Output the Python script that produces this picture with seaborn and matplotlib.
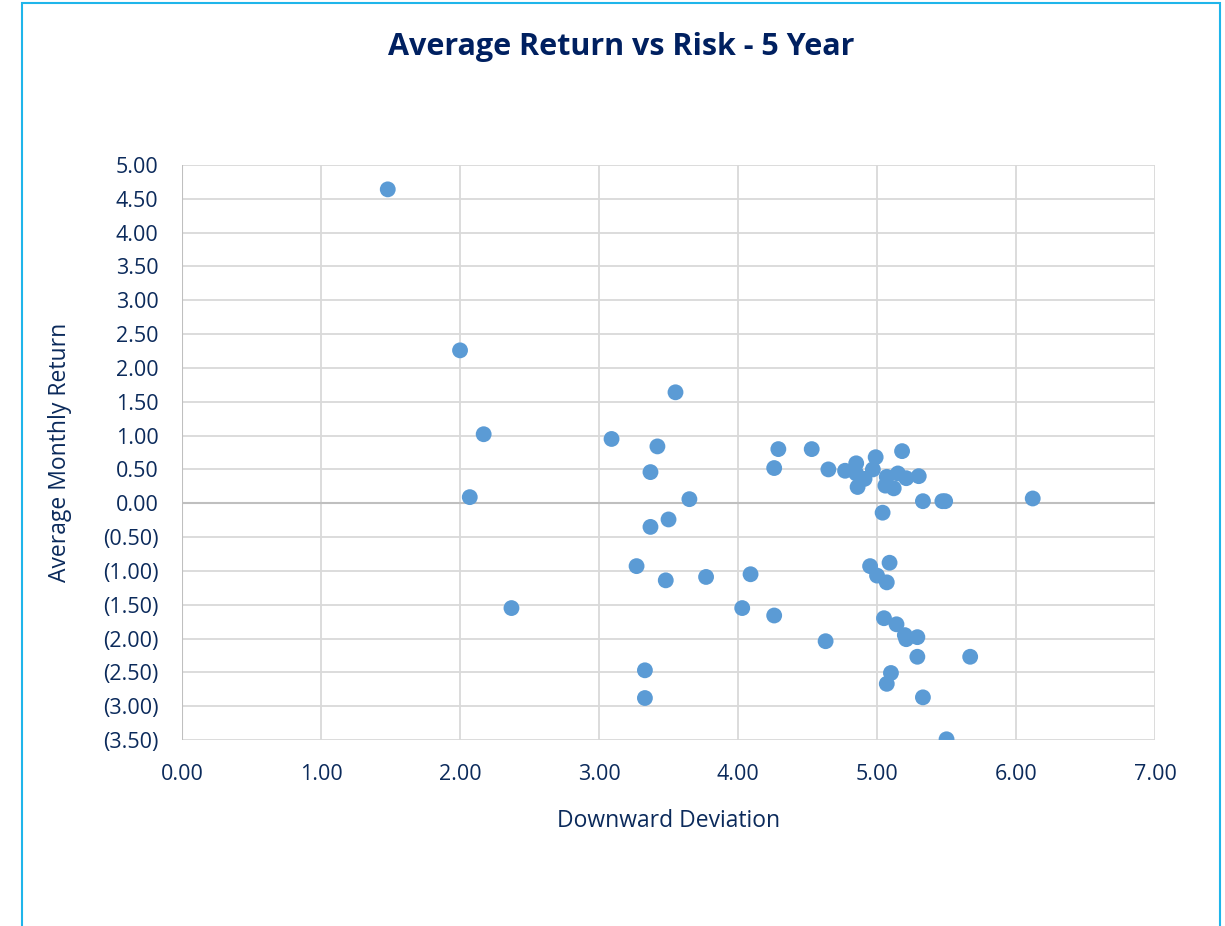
import matplotlib
matplotlib.use("Agg")
import matplotlib.pyplot as plt
import seaborn as sns
import pandas as pd
from matplotlib.patches import Rectangle
from matplotlib.ticker import FuncFormatter, MultipleLocator

# downside deviation vs average monthly return (5 year)
downward_dev = [1.48, 2.00, 2.17, 2.07, 2.37, 3.09, 3.55, 3.42, 3.37, 3.65,
                3.50, 3.37, 3.27, 3.48, 3.77, 4.09, 4.03, 4.26, 4.63, 3.33,
                3.33, 4.29, 4.26, 4.53, 4.65, 4.77, 4.85, 4.85, 4.99, 4.97,
                4.91, 4.86, 5.18, 5.07, 5.06, 5.12, 5.15, 5.21, 5.30, 5.33,
                5.47, 5.49, 5.04, 6.12, 4.95, 5.09, 5.00, 5.07, 5.05, 5.14,
                5.20, 5.21, 5.29, 5.29, 5.67, 5.10, 5.07, 5.33, 5.50]
avg_return = [4.64, 2.26, 1.02, 0.09, -1.55, 0.95, 1.64, 0.84, 0.46, 0.06,
              -0.24, -0.35, -0.93, -1.14, -1.09, -1.05, -1.55, -1.66, -2.04, -2.47,
              -2.88, 0.80, 0.52, 0.80, 0.50, 0.48, 0.59, 0.44, 0.68, 0.50,
              0.36, 0.24, 0.77, 0.39, 0.26, 0.22, 0.44, 0.37, 0.40, 0.03,
              0.03, 0.03, -0.14, 0.07, -0.93, -0.88, -1.07, -1.17, -1.70, -1.79,
              -1.95, -2.01, -1.98, -2.27, -2.27, -2.51, -2.67, -2.87, -3.49]

df = pd.DataFrame({"Downward Deviation": downward_dev,
                   "Average Monthly Return": avg_return})

navy = "#0B2A5B"
sns.set_style("white")
plt.rcParams["font.family"] = ["Open Sans", "DejaVu Sans"]

fig = plt.figure(figsize=(12.25, 9.26), dpi=100)
ax = fig.add_axes([0.1486, 0.2009, 0.7943, 0.6209])

sns.scatterplot(data=df, x="Downward Deviation", y="Average Monthly Return",
                color="#5B9BD5", s=130, edgecolor="none", ax=ax, zorder=3)

ax.set_xlim(0, 7)
ax.set_ylim(-3.5, 5)
ax.xaxis.set_major_locator(MultipleLocator(1))
ax.yaxis.set_major_locator(MultipleLocator(0.5))
ax.xaxis.set_major_formatter(FuncFormatter(lambda v, p: f"{v:.2f}"))
ax.yaxis.set_major_formatter(FuncFormatter(
    lambda v, p: f"({abs(v):.2f})" if v < -1e-9 else f"{abs(v):.2f}"))

ax.grid(True, color="#D9D9D9", linewidth=1.3)
ax.axhline(0, color="#BFBFBF", linewidth=1.5, zorder=2)
ax.axvline(0, color="#BFBFBF", linewidth=1.5, zorder=2)
for s in ax.spines.values():
    s.set_visible(False)
ax.tick_params(length=0, labelsize=15.5, colors=navy, pad=17)

ax.set_xlabel("Downward Deviation", fontsize=16.5, color=navy)
ax.set_ylabel("Average Monthly Return", fontsize=16.5, color=navy)
ax.xaxis.set_label_coords(0.5, -0.141)
ax.xaxis.label.set_verticalalignment("center")
ax.yaxis.set_label_coords(-0.125, 0.5)
ax.yaxis.label.set_verticalalignment("center")

fig.text(0.507, 0.949, "Average Return vs Risk - 5 Year", ha="center", va="center",
         fontsize=22, fontweight="bold", color="#002060")

# chart border (cut off at the bottom)
fig.patches.append(Rectangle((22 / 1225, -0.05), (1220 - 22) / 1225, 1.05 - 3 / 926,
                             transform=fig.transFigure, fill=False,
                             edgecolor="#1FB5EA", linewidth=1.5))

fig.savefig("out.png", dpi=100)
